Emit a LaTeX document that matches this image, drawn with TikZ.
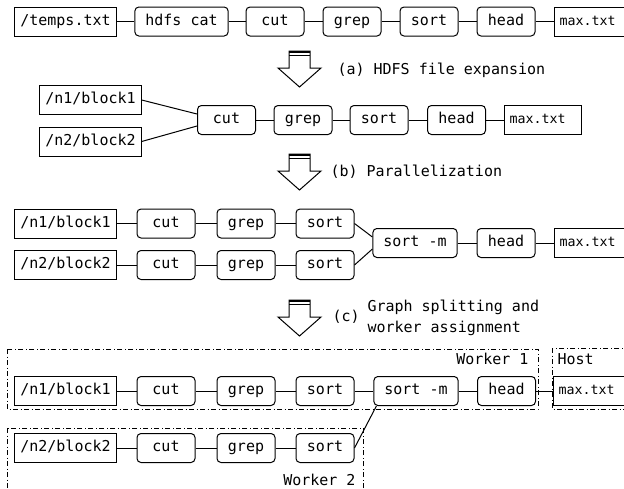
\documentclass[tikz,border=0pt]{standalone}
\usepackage{fontspec}
\newfontfamily\codefont{DejaVu Sans Mono}
\tikzset{
	cmdbox/.style={draw, rounded corners=4pt, minimum width=58pt, minimum height=29pt, inner xsep=10.5pt, inner ysep=0pt, text height=11pt, text depth=3.5pt},
	filebox/.style={draw, minimum height=29pt, inner xsep=5.5pt, inner ysep=0pt, text height=11pt, text depth=3.5pt},
	outbox/.style={filebox, font=\codefont\fontsize{13.3}{16}\selectfont, inner xsep=5pt, text width=67pt, align=left, anchor=west},
	groupbox/.style={draw, dash pattern=on 5pt off 2.5pt on 1pt off 2.5pt},
	caption/.style={inner sep=0pt, anchor=west},
}
\begin{document}
\begin{tikzpicture}[x=1pt, y=-1pt, line width=1pt, font=\codefont\fontsize{15}{21}\selectfont]
	\useasboundingbox (0,0) rectangle (624,488);
	\clip (0,0) rectangle (624,488);
	\node[filebox] (temps) at (65.5,21.5) {/temps.txt};
	\node[cmdbox] (hdfs) at (181.5,21.5) {hdfs cat};
	\node[cmdbox] (cuta) at (275,21.5) {cut};
	\node[cmdbox] (grepa) at (352,21.5) {grep};
	\node[cmdbox] (sorta) at (429,21.5) {sort};
	\node[cmdbox] (heada) at (506,21.5) {head};
	\node[outbox] (maxa) at (554,21.5) {max.txt};
	\draw (temps) -- (hdfs) -- (cuta) -- (grepa) -- (sorta) -- (heada) -- (maxa);
	\foreach \t in {51,154,300}{
		\draw (289,\t) -- (289,\t+17) -- (278,\t+17) -- (299.5,\t+36) -- (321,\t+17) -- (310,\t+17) -- (310,\t) -- cycle;
		\draw[line width=2pt] (289,\t+1) -- (310,\t+1);
		\draw (289,\t+4.5) -- (310,\t+4.5);
	}
	\node[caption] (capa) at (337,70) {(a) HDFS file expansion};
	\node[filebox] (blkb1) at (90.5,100) {/n1/block1};
	\node[filebox] (blkb2) at (90.5,141.5) {/n2/block2};
	\node[cmdbox] (cutb) at (226.5,120) {cut};
	\node[cmdbox] (grepb) at (303,120) {grep};
	\node[cmdbox] (sortb) at (379,120) {sort};
	\node[cmdbox] (headb) at (456.5,120) {head};
	\node[outbox] (maxb) at (504,120) {max.txt};
	\draw (blkb1.east) -- ([yshift=6pt]cutb.west);
	\draw (blkb2.east) -- ([yshift=-6pt]cutb.west);
	\draw (cutb) -- (grepb) -- (sortb) -- (headb) -- (maxb);
	\node[caption] (capb) at (330,172) {(b) Parallelization};
	\node[filebox] (blkc1) at (65.5,223.5) {/n1/block1};
	\node[cmdbox] (cutc1) at (166,223.5) {cut};
	\node[cmdbox] (grepc1) at (246,223.5) {grep};
	\node[cmdbox] (sortc1) at (325,223.5) {sort};
	\node[filebox] (blkc2) at (65.5,265) {/n2/block2};
	\node[cmdbox] (cutc2) at (166,265) {cut};
	\node[cmdbox] (grepc2) at (246,265) {grep};
	\node[cmdbox] (sortc2) at (325,265) {sort};
	\node[cmdbox] (sortmc) at (415,243) {sort -m};
	\node[cmdbox] (headc) at (506,243) {head};
	\node[outbox] (maxc) at (554,243) {max.txt};
	\draw (blkc1) -- (cutc1) -- (grepc1) -- (sortc1);
	\draw (blkc2) -- (cutc2) -- (grepc2) -- (sortc2);
	\draw (sortc1.east) -- ([yshift=6pt]sortmc.west);
	\draw (sortc2.east) -- ([yshift=-6pt]sortmc.west);
	\draw (sortmc) -- (headc) -- (maxc);
	\node[caption] (capc) at (332,317) {(c)};
	\node[caption, align=left] (capctext) at (367,317.5) {Graph splitting and\\worker assignment};
	\draw[groupbox] (7,349) rectangle (538,409);
	\draw[groupbox] (552,348) rectangle (640,409);
	\draw[groupbox] (7,428) rectangle (363,500);
	\node[inner sep=0pt, anchor=east] (work1) at (529,359) {Worker 1};
	\node[caption] (host) at (557,359) {Host};
	\node[inner sep=0pt, anchor=east] (work2) at (356,480) {Worker 2};
	\node[filebox] (blkd1) at (65.5,391) {/n1/block1};
	\node[cmdbox] (cutd1) at (166,391) {cut};
	\node[cmdbox] (grepd1) at (246,391) {grep};
	\node[cmdbox] (sortd1) at (325,391) {sort};
	\node[cmdbox] (sortmd) at (416,391) {sort -m};
	\node[cmdbox] (headd) at (506.5,391) {head};
	\node[outbox] (maxd) at (553,391) {max.txt};
	\draw (blkd1) -- (cutd1) -- (grepd1) -- (sortd1) -- (sortmd) -- (headd) -- (maxd);
	\node[filebox] (blkd2) at (65.5,448) {/n2/block2};
	\node[cmdbox] (cutd2) at (166,448) {cut};
	\node[cmdbox] (grepd2) at (246,448) {grep};
	\node[cmdbox] (sortd2) at (325,448) {sort};
	\draw (blkd2) -- (cutd2) -- (grepd2) -- (sortd2);
	\draw (sortd2.east) -- ([xshift=3pt]sortmd.south west);
\end{tikzpicture}
\end{document}
